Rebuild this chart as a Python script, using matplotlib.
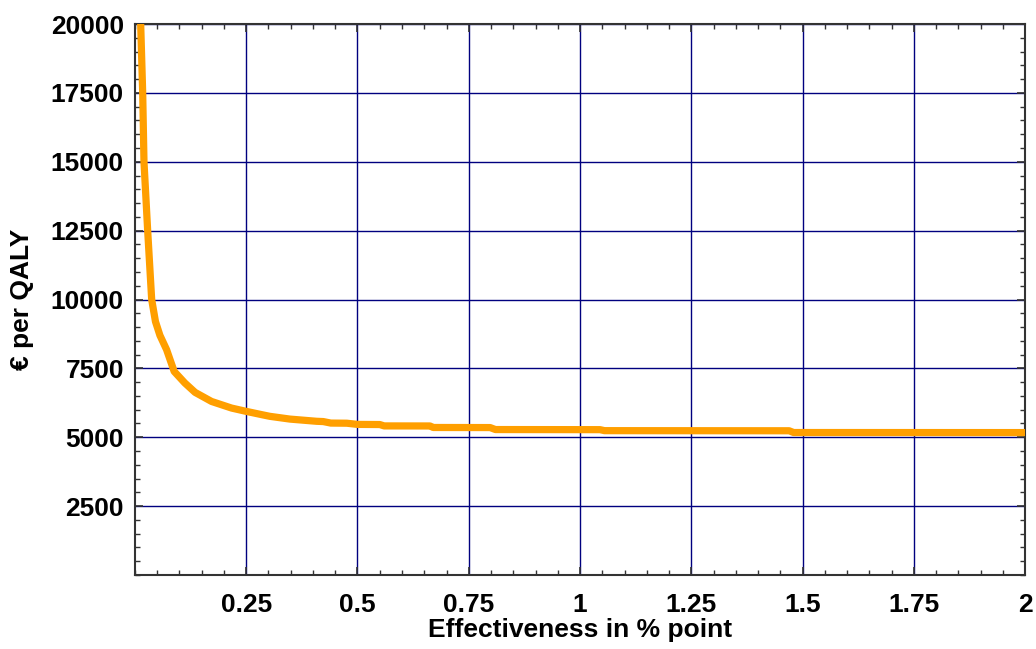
import matplotlib
matplotlib.use("Agg")
import matplotlib.pyplot as plt
from matplotlib.ticker import MultipleLocator, FormatStrFormatter

# cost per QALY against effectiveness (% point)
effectiveness = [0.0128, 0.0173, 0.0202, 0.0285, 0.0375, 0.046, 0.056, 0.071,
                 0.088, 0.112, 0.135, 0.172, 0.217, 0.247, 0.285, 0.303, 0.348,
                 0.408, 0.423, 0.44, 0.476, 0.50, 0.55, 0.56, 0.663, 0.67,
                 0.798, 0.81, 1.045, 1.055, 1.47, 1.48, 2.0]
cost_per_qaly = [20000, 17500, 15000, 12500, 10000, 9200, 8700, 8180,
                 7390, 6970, 6630, 6300, 6060, 5950, 5820, 5760, 5660,
                 5580, 5570, 5515, 5510, 5467, 5462, 5412, 5410, 5355,
                 5352, 5280, 5276, 5240, 5236, 5172, 5170]

x_ticks = [0.25, 0.5, 0.75, 1, 1.25, 1.5, 1.75, 2]
y_ticks = [2500, 5000, 7500, 10000, 12500, 15000, 17500, 20000]

plt.rcParams["font.family"] = ["Liberation Sans", "DejaVu Sans"]
plt.rcParams["font.weight"] = "bold"

figure = plt.figure(figsize=(10.36, 6.49), dpi=100)
axes = figure.add_axes([0.1303, 0.114, 0.8591, 0.849])

axes.plot(effectiveness, cost_per_qaly, color="#FF9F00", linewidth=5.2,
          solid_joinstyle="round", zorder=3)

axes.set_xlim(0, 2)
axes.set_ylim(0, 20000)
axes.set_xticks(x_ticks)
axes.set_yticks(y_ticks)
axes.xaxis.set_minor_locator(MultipleLocator(0.05))
axes.yaxis.set_minor_locator(MultipleLocator(500))
axes.xaxis.set_major_formatter(FormatStrFormatter("%g"))

axes.grid(True, which="major", color="#00007F", linewidth=1)
axes.tick_params(which="both", direction="in", top=True, right=True,
                 color="#333333", labelsize=19, pad=8)
axes.tick_params(which="major", length=6, width=1.2)
axes.tick_params(which="minor", length=3.5, width=1)
axes.tick_params(axis="x", pad=13)
for spine in axes.spines.values():
    spine.set_color("#333333")
    spine.set_linewidth(1.5)

axes.set_xlabel("Effectiveness in % point", fontsize=19, fontweight="bold",
                labelpad=1)
axes.set_ylabel("€ per QALY", fontsize=19, fontweight="bold", labelpad=12)

figure.savefig("out.png", dpi=100)
